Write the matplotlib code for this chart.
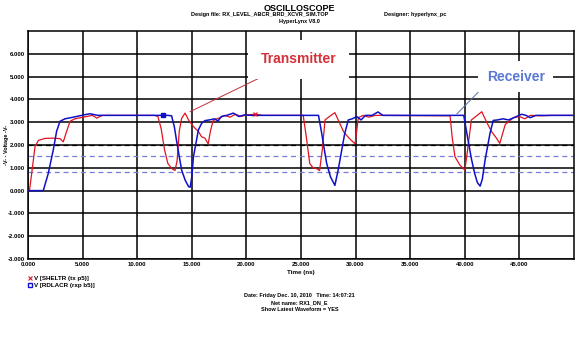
import matplotlib.pyplot as plt
import numpy as np
from matplotlib.lines import Line2D

plt.rcParams['font.family'] = ['Liberation Sans', 'DejaVu Sans']

# transmitter (red) waveform, time in ns / voltage in V
tx_t = [0, 0.15, 0.34, 0.64, 0.95, 1.55, 2.2, 2.93, 3.23, 3.54, 3.85, 4.3, 5.37, 5.9, 6.3, 6.8, 7.5,
        11.6, 11.9, 12.2, 12.5, 12.8, 13.15, 13.46, 13.65, 13.85, 14.07, 14.38, 14.7, 15.0, 15.3, 15.6,
        15.9, 16.2, 16.5, 16.7, 16.95, 17.3, 17.6, 18.0, 18.5, 19.0, 19.5, 20.0, 20.8, 21.5,
        25.2, 25.5, 25.8, 26.1, 26.4, 26.7, 26.95, 27.2, 27.6, 28.1, 28.5, 28.9, 29.4, 29.95, 30.25,
        30.7, 31.2, 31.8, 32.5,
        38.65, 38.85, 39.1, 39.56, 40.0, 40.2, 40.6, 41.0, 41.55, 42.0, 42.46, 42.9, 43.2, 43.7,
        44.45, 45.0, 45.5, 46.0, 47.0, 48.0, 50.0]
tx_v = [0, 0.05, 0.76, 1.92, 2.2, 2.29, 2.3, 2.28, 2.14, 2.6, 3.04, 3.15, 3.25, 3.3, 3.18, 3.3, 3.3,
        3.3, 3.25, 2.7, 1.8, 1.2, 0.97, 0.88, 1.3, 2.6, 3.17, 3.4, 3.1, 2.9, 2.73, 2.6,
        2.36, 2.3, 2.05, 2.6, 3.07, 3.15, 3.2, 3.3, 3.22, 3.35, 3.25, 3.32, 3.35, 3.3,
        3.3, 2.3, 1.19, 1.0, 0.97, 0.88, 1.8, 3.1, 3.25, 3.42, 3.0, 2.58, 2.3, 2.05, 3.2,
        3.3, 3.22, 3.3, 3.3,
        3.28, 2.3, 1.48, 1.11, 0.9, 1.6, 3.1, 3.25, 3.46, 3.0, 2.58, 2.3, 2.07, 2.9,
        3.2, 3.25, 3.15, 3.3, 3.28, 3.3, 3.3]

# receiver (blue) waveform
rx_t = [0, 1.4, 1.86, 2.32, 2.62, 2.93, 3.39, 4.15, 5.2, 5.68, 6.4, 7.0,
        12.8, 13.15, 13.4, 13.6, 13.85, 14.07, 14.4, 14.7, 14.85, 15.0, 15.15, 15.35, 15.6, 15.9,
        16.2, 16.6, 17.1, 17.4, 17.7, 18.2, 18.8, 19.3, 19.8, 20.5,
        26.6, 26.9, 27.1, 27.35, 27.7, 28.1, 28.4, 28.7, 29.0, 29.33, 29.7, 30.1, 30.5, 30.9,
        31.5, 32.05, 32.5, 33.0,
        39.9, 40.3, 40.6, 40.9, 41.15, 41.4, 41.6, 41.85, 42.3, 42.6, 43.0, 43.5, 44.0, 44.5,
        45.2, 45.6, 46.0, 46.5, 50.0]
rx_v = [0, 0, 0.76, 1.8, 2.6, 3.04, 3.15, 3.22, 3.33, 3.37, 3.3, 3.3,
        3.3, 3.28, 2.8, 2.2, 1.5, 0.9, 0.45, 0.18, 0.15, 0.6, 1.48, 2.0, 2.66, 2.95,
        3.07, 3.1, 3.15, 3.05, 3.25, 3.3, 3.4, 3.25, 3.32, 3.3,
        3.3, 2.5, 1.9, 1.19, 0.6, 0.23, 0.9, 1.7, 2.5, 3.1, 3.15, 3.25, 3.1, 3.3,
        3.3, 3.45, 3.3, 3.3,
        3.3, 2.2, 1.4, 0.75, 0.35, 0.2, 0.5, 1.33, 2.5, 3.08, 3.1, 3.15, 3.1, 3.2,
        3.35, 3.3, 3.2, 3.3, 3.3]

tx_marks = [20.8]
rx_marks = [12.4]

thresholds = [2.0, 1.5, 0.8]
threshold_colors = ['black', '#7b7bd9', '#7b7bd9']

x_ticks = np.arange(0, 50, 5)
y_ticks = np.arange(-3, 7, 1)

fig = plt.figure(figsize=(5.76, 3.47), dpi=100)
ax = fig.add_axes([0.0486, 0.2536, 0.948, 0.657])

for level, c in zip(thresholds, threshold_colors):
    ax.axhline(level, color=c, lw=0.9, ls=(0, (4, 3)), zorder=1)

ax.plot(tx_t, tx_v, color='#e0141e', lw=0.9, zorder=3)
ax.plot(rx_t, rx_v, color='#1010c8', lw=1.1, zorder=4)
ax.plot(tx_marks, np.interp(tx_marks, tx_t, tx_v), 'x', color='#e0141e', ms=3, mew=0.8, zorder=5)
ax.plot(rx_marks, np.interp(rx_marks, rx_t, rx_v), 's', color='#1010c8', ms=2.5, zorder=5)

ax.set_xlim(0, 50)
ax.set_ylim(-3, 7)
ax.set_xticks(x_ticks)
ax.set_yticks(y_ticks)
ax.set_xticklabels(['%.3f' % v for v in x_ticks], fontsize=4.3, fontweight='bold')
ax.set_yticklabels(['%.3f' % v for v in y_ticks], fontsize=4.3, fontweight='bold')
ax.tick_params(length=0, pad=2)
ax.grid(True, color='black', lw=1.1)
for s in ax.spines.values():
    s.set_linewidth(1.1)
ax.set_axisbelow(True)

ax.set_xlabel('Time (ns)', fontsize=4.5, fontweight='bold', labelpad=2)
ax.set_ylabel('-V- - Voltage -V-', fontsize=4, fontweight='bold')
ax.yaxis.set_label_coords(-0.034, 0.5)

ax.annotate('Transmitter', xy=(14.83, 3.46), xytext=(21.3, 5.77),
            color='#d4313a', fontsize=10, fontweight='bold', va='center', ha='left',
            bbox=dict(fc='white', ec='none', pad=9),
            arrowprops=dict(arrowstyle='-', color='#c03038', lw=0.7, shrinkA=0, shrinkB=0),
            zorder=6)
ax.annotate('Receiver', xy=(39.26, 3.36), xytext=(42.0, 5.0),
            color='#5a78d4', fontsize=10, fontweight='bold', va='center', ha='left',
            bbox=dict(fc='white', ec='none', pad=6),
            arrowprops=dict(arrowstyle='-', color='#5a6fa8', lw=0.7, shrinkA=0, shrinkB=0,
                            relpos=(0, 0)),
            zorder=6)

fig.text(0.52, 0.975, 'OSCILLOSCOPE', ha='center', va='center', fontsize=6.5, fontweight='bold')
fig.text(0.45, 0.957, 'Design file: RX_LEVEL_ABCR_BRD_XCVR_SIM.TOP', ha='center', va='center',
         fontsize=4, fontweight='bold')
fig.text(0.72, 0.957, 'Designer: hyperlynx_pc', ha='center', va='center', fontsize=4, fontweight='bold')
fig.text(0.52, 0.939, 'HyperLynx V8.0', ha='center', va='center', fontsize=4, fontweight='bold')

fig.text(0.52, 0.147, 'Date: Friday Dec. 10, 2010   Time: 14:07:21', ha='center', va='center',
         fontsize=4, fontweight='bold')
fig.text(0.52, 0.127, 'Net name: RX1_DN_E', ha='center', va='center', fontsize=4, fontweight='bold')
fig.text(0.52, 0.107, 'Show Latest Waveform = YES', ha='center', va='center', fontsize=4, fontweight='bold')

handles = [Line2D([], [], color='#e0141e', marker='x', ls='none', ms=3, mew=0.8),
           Line2D([], [], color='#1010c8', marker='s', ls='none', ms=2.5, mfc='none')]
ax.legend(handles, ['V [SHELTR (tx p5)]', 'V [RDLACR (rxp b5)]'], loc='upper left',
          bbox_to_anchor=(0.042, 0.215), bbox_transform=fig.transFigure, frameon=False,
          prop={'size': 4.5, 'weight': 'bold'}, handletextpad=0.2, labelspacing=0.3,
          borderpad=0, handlelength=0.8)

fig.savefig('out.png', dpi=100)
